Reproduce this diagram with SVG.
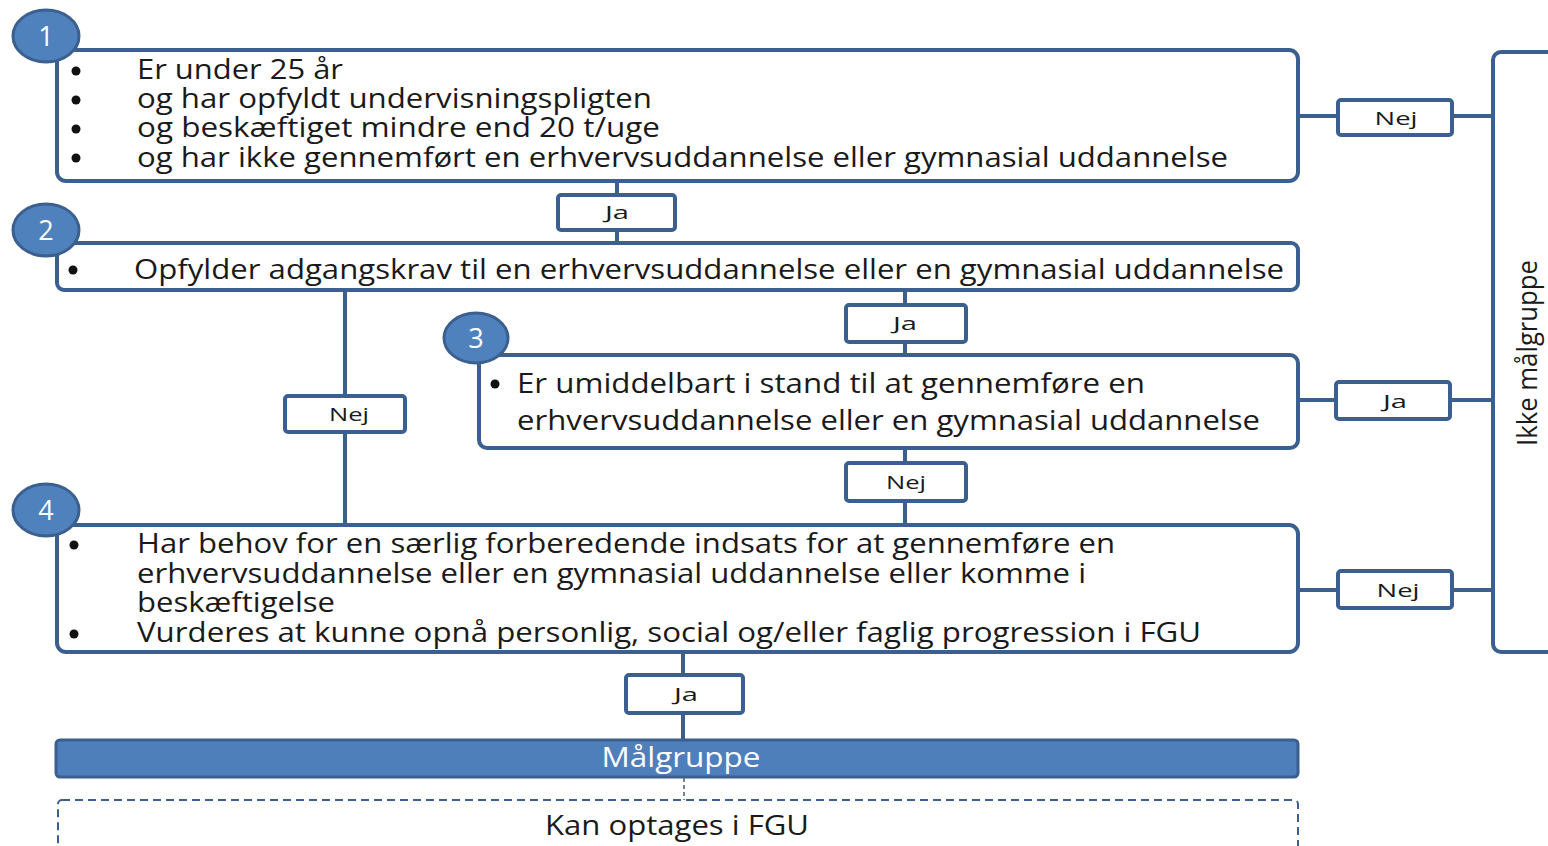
<svg xmlns="http://www.w3.org/2000/svg" width="1548" height="846" viewBox="0 0 1548 846">
<style>
.box{fill:#fff;stroke:#3b5f8f;stroke-width:4}
.lbl{fill:#fff;stroke:#3b5f8f;stroke-width:4}
.num{fill:#4f81bd;stroke:#3b5f8f;stroke-width:3}
.numt{font-family:"Open Sans","Liberation Sans",sans-serif;font-size:27px;fill:#fff;text-anchor:middle}
.t{font-family:"Open Sans","Liberation Sans",sans-serif;font-size:27px;fill:#1a1a1a}
.lt{font-family:"Open Sans","Liberation Sans",sans-serif;font-size:18px;fill:#1a1a1a;text-anchor:middle}
.bul{fill:#111}
.con{stroke:#3b5f8f;stroke-width:4;fill:none}
</style>
<rect width="1548" height="846" fill="#fff"/>
<g id="connectors">
<line class="con" x1="617" y1="181" x2="617" y2="243"/>
<line class="con" x1="345" y1="290" x2="345" y2="525"/>
<line class="con" x1="905" y1="290" x2="905" y2="355"/>
<line class="con" x1="905" y1="448" x2="905" y2="525"/>
<line class="con" x1="683" y1="652" x2="683" y2="739"/>
<line class="con" x1="1298" y1="116" x2="1495" y2="116"/>
<line class="con" x1="1298" y1="400" x2="1495" y2="400"/>
<line class="con" x1="1298" y1="590" x2="1495" y2="590"/>
<line x1="684" y1="778" x2="684" y2="800" stroke="#4a5a70" stroke-width="1.5" stroke-dasharray="4,3"/>
</g>
<g id="node1">
<rect class="box" x="57" y="50" width="1241" height="131" rx="9"/>
<circle class="bul" cx="76" cy="71" r="4.5"/>
<circle class="bul" cx="76" cy="100" r="4.5"/>
<circle class="bul" cx="76" cy="129" r="4.5"/>
<circle class="bul" cx="76" cy="158" r="4.5"/>
<text class="t" x="137" y="79" textLength="206" lengthAdjust="spacingAndGlyphs">Er under 25 år</text>
<text class="t" x="137" y="108" textLength="515" lengthAdjust="spacingAndGlyphs">og har opfyldt undervisningspligten</text>
<text class="t" x="137" y="137" textLength="523" lengthAdjust="spacingAndGlyphs">og beskæftiget mindre end 20 t/uge</text>
<text class="t" x="137" y="167" textLength="1091" lengthAdjust="spacingAndGlyphs">og har ikke gennemført en erhvervsuddannelse eller gymnasial uddannelse</text>
<ellipse class="num" cx="46" cy="36" rx="33" ry="26"/>
<text class="numt" x="46" y="46">1</text>
</g>
<g id="node2">
<rect class="box" x="57" y="243" width="1241" height="47" rx="7"/>
<circle class="bul" cx="73" cy="270" r="4.5"/>
<text class="t" x="134" y="279" textLength="1150" lengthAdjust="spacingAndGlyphs">Opfylder adgangskrav til en erhvervsuddannelse eller en gymnasial uddannelse</text>
<ellipse class="num" cx="46" cy="230" rx="33" ry="26"/>
<text class="numt" x="46" y="240">2</text>
</g>
<g id="node3">
<rect class="box" x="479" y="355" width="819" height="93" rx="8"/>
<circle class="bul" cx="495" cy="384" r="4.5"/>
<text class="t" x="517" y="393" textLength="628" lengthAdjust="spacingAndGlyphs">Er umiddelbart i stand til at gennemføre en</text>
<text class="t" x="517" y="430" textLength="743" lengthAdjust="spacingAndGlyphs">erhvervsuddannelse eller en gymnasial uddannelse</text>
<ellipse class="num" cx="476" cy="338" rx="32" ry="25"/>
<text class="numt" x="476" y="348">3</text>
</g>
<g id="node4">
<rect class="box" x="57" y="525" width="1241" height="127" rx="9"/>
<circle class="bul" cx="74" cy="545" r="4.5"/>
<circle class="bul" cx="74" cy="634" r="4.5"/>
<text class="t" x="137" y="553" textLength="978" lengthAdjust="spacingAndGlyphs">Har behov for en særlig forberedende indsats for at gennemføre en</text>
<text class="t" x="137" y="583" textLength="949" lengthAdjust="spacingAndGlyphs">erhvervsuddannelse eller en gymnasial uddannelse eller komme i</text>
<text class="t" x="137" y="612" textLength="198" lengthAdjust="spacingAndGlyphs">beskæftigelse</text>
<text class="t" x="137" y="642" textLength="1064" lengthAdjust="spacingAndGlyphs">Vurderes at kunne opnå personlig, social og/eller faglig progression i FGU</text>
<ellipse class="num" cx="46" cy="510" rx="33" ry="26"/>
<text class="numt" x="46" y="520">4</text>
</g>
<g id="lbl-ja1">
<rect class="lbl" x="558" y="195" width="117" height="35" rx="3"/>
<text class="lt" x="617" y="219" textLength="24" lengthAdjust="spacingAndGlyphs">Ja</text>
</g>
<g id="lbl-nej2">
<rect class="lbl" x="285" y="396" width="120" height="36" rx="3"/>
<text class="lt" x="349" y="421" textLength="40" lengthAdjust="spacingAndGlyphs">Nej</text>
</g>
<g id="lbl-ja2">
<rect class="lbl" x="846" y="305" width="120" height="37" rx="3"/>
<text class="lt" x="905" y="330" textLength="24" lengthAdjust="spacingAndGlyphs">Ja</text>
</g>
<g id="lbl-nej3">
<rect class="lbl" x="846" y="463" width="120" height="38" rx="3"/>
<text class="lt" x="906" y="489" textLength="40" lengthAdjust="spacingAndGlyphs">Nej</text>
</g>
<g id="lbl-ja4">
<rect class="lbl" x="626" y="675" width="117" height="38" rx="3"/>
<text class="lt" x="686" y="701" textLength="24" lengthAdjust="spacingAndGlyphs">Ja</text>
</g>
<g id="lbl-nej1">
<rect class="lbl" x="1338" y="100" width="114" height="35" rx="3"/>
<text class="lt" x="1396" y="125" textLength="43" lengthAdjust="spacingAndGlyphs">Nej</text>
</g>
<g id="lbl-ja3">
<rect class="lbl" x="1336" y="382" width="114" height="37" rx="3"/>
<text class="lt" x="1395" y="408" textLength="24" lengthAdjust="spacingAndGlyphs">Ja</text>
</g>
<g id="lbl-nej4">
<rect class="lbl" x="1338" y="571" width="114" height="37" rx="3"/>
<text class="lt" x="1398" y="597" textLength="43" lengthAdjust="spacingAndGlyphs">Nej</text>
</g>
<g id="ikke">
<rect class="box" x="1493" y="52" width="100" height="600" rx="8"/>
<text class="t" transform="translate(1537,353) rotate(-90)" text-anchor="middle" font-size="25" textLength="186" lengthAdjust="spacingAndGlyphs">Ikke målgruppe</text>
</g>
<g id="malgruppe">
<rect x="56" y="740" width="1242" height="37" rx="4" fill="#4f7fba" stroke="#3b5f8f" stroke-width="3"/>
<text x="681" y="767" text-anchor="middle" font-family="Open Sans, Liberation Sans, sans-serif" font-size="27" fill="#fff" textLength="159" lengthAdjust="spacingAndGlyphs">Målgruppe</text>
</g>
<g id="kan">
<rect x="58" y="800" width="1240" height="80" rx="4" fill="#fff" stroke="#3b5f8f" stroke-width="2" stroke-dasharray="8,5"/>
<text class="t" x="545" y="835" textLength="264" lengthAdjust="spacingAndGlyphs">Kan optages i FGU</text>
</g>
</svg>
